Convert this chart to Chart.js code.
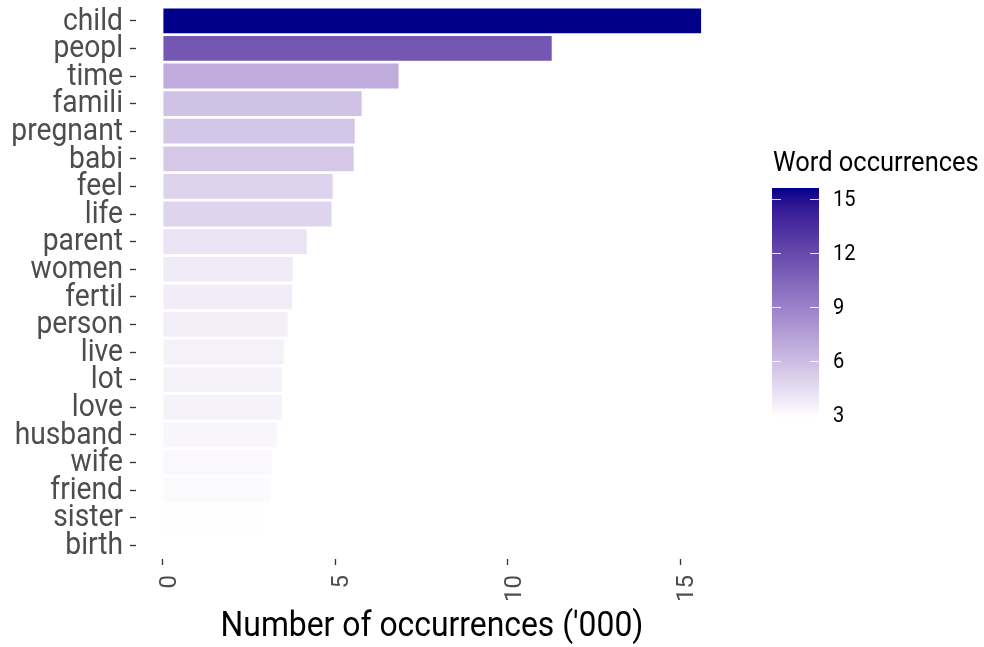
<!DOCTYPE html>
<html>
<head>
<meta charset="utf-8">
<script src="https://cdn.jsdelivr.net/npm/chart.js@4"></script>
<style>
  html, body { margin: 0; padding: 0; background: #fff; }
  #wrap { width: 984px; height: 647px; position: relative; }
</style>
</head>
<body>
<div id="wrap"><canvas id="wordChart" width="984" height="647"></canvas></div>
<script>
const words = ["child", "peopl", "time", "famili", "pregnant", "babi", "feel", "life",
  "parent", "women", "fertil", "person", "live", "lot", "love", "husband", "wife",
  "friend", "sister", "birth"];
const counts = [15.6, 11.27, 6.83, 5.76, 5.56, 5.53, 4.92, 4.89, 4.17, 3.76, 3.74,
  3.62, 3.5, 3.45, 3.45, 3.3, 3.16, 3.1, 2.92, 2.85];
const xTicks = [0, 5, 10, 15];
const legendTicks = [3, 6, 9, 12, 15];
const xTitle = "Number of occurrences ('000)";
const legendTitle = "Word occurrences";

const FONT = "Roboto, sans-serif";
const NARROW = 0.91; // no condensed face installed, squeeze Roboto instead
const lowCol = [255, 255, 255];
const highCol = [0, 0, 139];

// colour ramp in Lab, like ggplot's scale_fill_gradient
function toLinear(c) {
  c /= 255;
  return c <= 0.04045 ? c / 12.92 : Math.pow((c + 0.055) / 1.055, 2.4);
}
function fromLinear(c) {
  const v = c <= 0.0031308 ? 12.92 * c : 1.055 * Math.pow(c, 1 / 2.4) - 0.055;
  return Math.round(Math.max(0, Math.min(1, v)) * 255);
}
function rgbToLab(rgb) {
  const [r, g, b] = rgb.map(toLinear);
  let x = (0.4124 * r + 0.3576 * g + 0.1805 * b) / 0.95047;
  let y = 0.2126 * r + 0.7152 * g + 0.0722 * b;
  let z = (0.0193 * r + 0.1192 * g + 0.9505 * b) / 1.08883;
  const f = (t) => (t > 0.008856 ? Math.cbrt(t) : 7.787 * t + 16 / 116);
  x = f(x); y = f(y); z = f(z);
  return [116 * y - 16, 500 * (x - y), 200 * (y - z)];
}
function labToRgb(lab) {
  const fy = (lab[0] + 16) / 116;
  const fx = fy + lab[1] / 500;
  const fz = fy - lab[2] / 200;
  const inv = (t) => (t * t * t > 0.008856 ? t * t * t : (t - 16 / 116) / 7.787);
  const x = inv(fx) * 0.95047, y = inv(fy), z = inv(fz) * 1.08883;
  const r = 3.2406 * x - 1.5372 * y - 0.4986 * z;
  const g = -0.9689 * x + 1.8758 * y + 0.0415 * z;
  const b = 0.0557 * x - 0.204 * y + 1.057 * z;
  return [fromLinear(r), fromLinear(g), fromLinear(b)];
}
const lowLab = rgbToLab(lowCol);
const highLab = rgbToLab(highCol);
const vMin = Math.min(...counts);
const vMax = Math.max(...counts);
function colourFor(v) {
  const t = (v - vMin) / (vMax - vMin);
  const lab = lowLab.map((l, i) => l + (highLab[i] - l) * t);
  const [r, g, b] = labToRgb(lab);
  return `rgb(${r},${g},${b})`;
}

function narrowText(ctx, text, x, y, align) {
  ctx.save();
  ctx.translate(x, y);
  ctx.scale(NARROW, 1);
  ctx.textAlign = align;
  ctx.fillText(text, 0, 0);
  ctx.restore();
}

// y labels, x title and the colour bar legend
const textLayer = {
  id: "textLayer",
  afterDraw(chart) {
    const ctx = chart.ctx;
    const yScale = chart.scales.y;
    const area = chart.chartArea;
    ctx.save();
    ctx.fillStyle = "#4D4D4D";
    ctx.font = `31px ${FONT}`;
    ctx.textBaseline = "middle";
    words.forEach((w, i) => {
      narrowText(ctx, w, 123, yScale.getPixelForValue(i) + 1, "right");
    });

    ctx.fillStyle = "#000";
    ctx.font = `35px ${FONT}`;
    ctx.textBaseline = "alphabetic";
    narrowText(ctx, xTitle, (area.left + area.right) / 2, 636, "center");

    const x0 = 772, w = 47, top = 188, bottom = 418;
    const yFor = (v) => bottom - (v - vMin) / (vMax - vMin) * (bottom - top);
    ctx.font = `28px ${FONT}`;
    narrowText(ctx, legendTitle, x0 + 1, 171, "left");

    const grad = ctx.createLinearGradient(0, bottom, 0, top);
    for (let i = 0; i <= 20; i++) {
      grad.addColorStop(i / 20, colourFor(vMin + (vMax - vMin) * i / 20));
    }
    ctx.fillStyle = grad;
    ctx.fillRect(x0, top, w, bottom - top);

    ctx.strokeStyle = "rgba(255,255,255,0.85)";
    ctx.lineWidth = 1;
    ctx.font = `22px ${FONT}`;
    ctx.textBaseline = "middle";
    ctx.fillStyle = "#000";
    legendTicks.forEach((t) => {
      const y = Math.round(yFor(t)) + 0.5;
      ctx.beginPath();
      ctx.moveTo(x0, y); ctx.lineTo(x0 + 9, y);
      ctx.moveTo(x0 + w - 9, y); ctx.lineTo(x0 + w, y);
      ctx.stroke();
      narrowText(ctx, String(t), x0 + 61, y + 1, "left");
    });
    ctx.restore();
  },
};

const chart = new Chart(document.getElementById("wordChart"), {
  type: "bar",
  data: {
    labels: words,
    datasets: [{
      data: counts,
      backgroundColor: counts.map(colourFor),
      borderWidth: 0,
      barPercentage: 0.9,
      categoryPercentage: 1,
    }],
  },
  options: {
    indexAxis: "y",
    responsive: false,
    animation: false,
    layout: { padding: { top: 7, right: 256, bottom: 0, left: 0 } },
    plugins: { legend: { display: false }, tooltip: { enabled: false } },
    scales: {
      x: {
        min: -0.78,
        max: 16.38,
        afterBuildTicks: (scale) => { scale.ticks = xTicks.map((v) => ({ value: v })); },
        afterFit: (scale) => { scale.height = 88; },
        grid: { drawOnChartArea: false, drawTicks: true, tickLength: 6, tickColor: "#333", tickWidth: 1.3 },
        border: { display: false },
        ticks: {
          minRotation: 90, maxRotation: 90, padding: 10, labelOffset: 7,
          color: "#4D4D4D",
          font: { family: FONT, size: 24 },
        },
      },
      y: {
        afterFit: (scale) => { scale.width = 136; },
        grid: { drawOnChartArea: false, drawTicks: true, offset: false, tickLength: 6, tickColor: "#333", tickWidth: 1.3 },
        border: { display: false },
        ticks: { display: false, autoSkip: false },
      },
    },
  },
  plugins: [textLayer],
});
</script>
</body>
</html>
